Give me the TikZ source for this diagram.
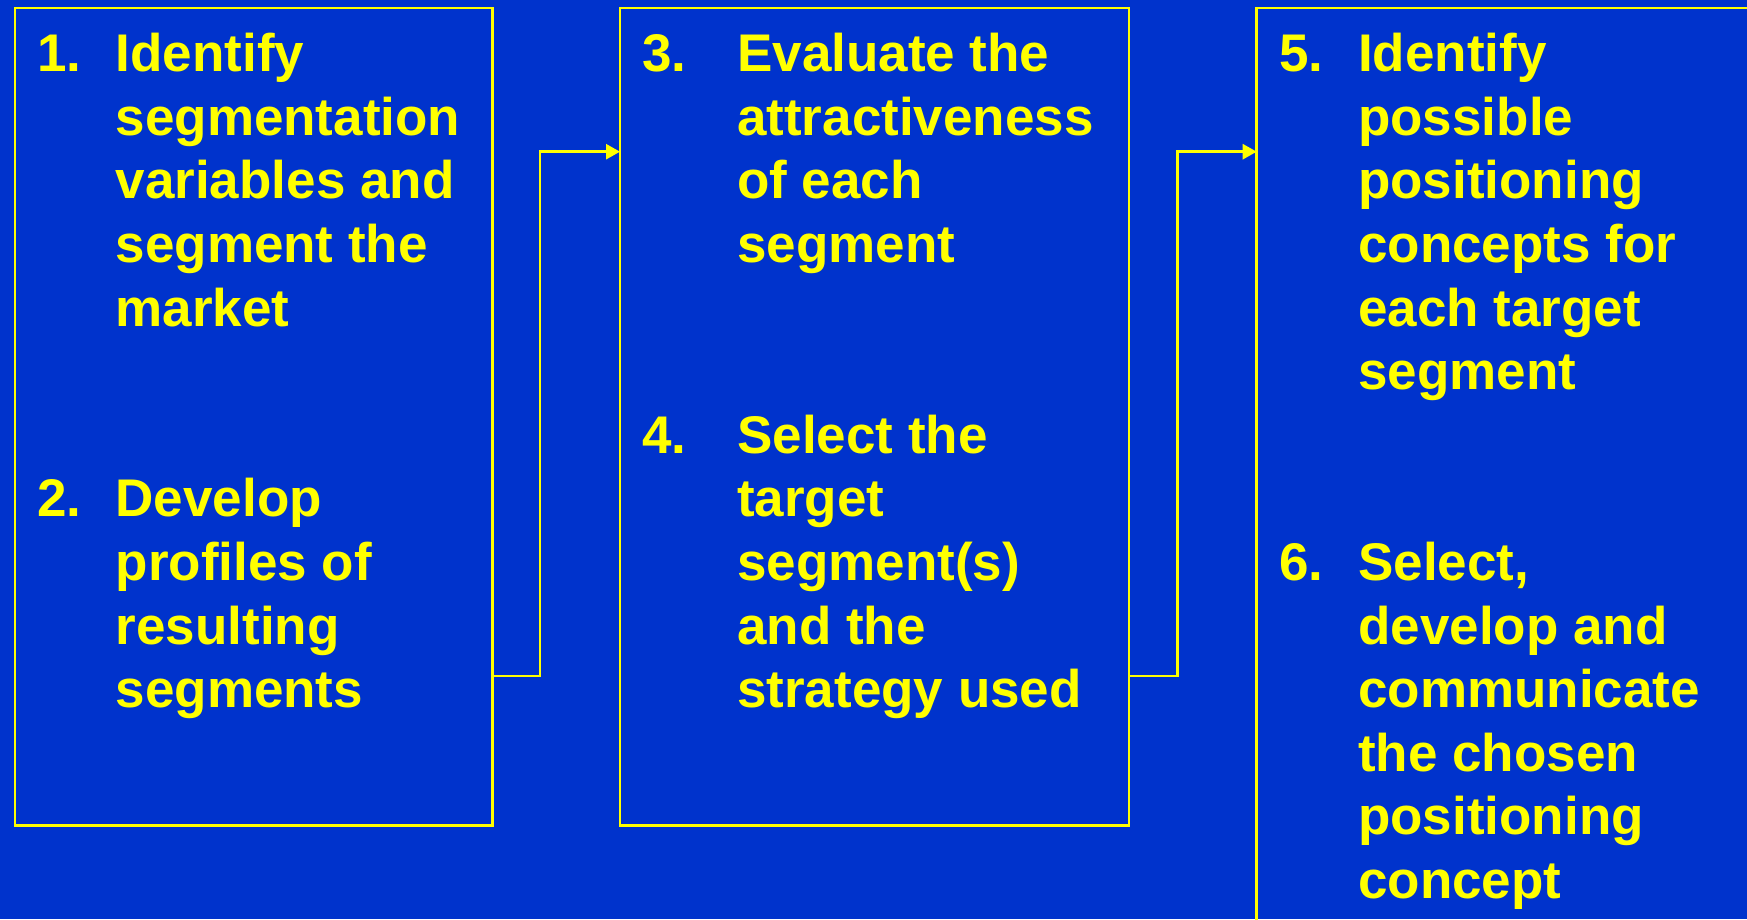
\documentclass[tikz,border=0pt]{standalone}
\usepackage{fontspec}
\setmainfont{Liberation Sans}
\usetikzlibrary{arrows.meta}
\definecolor{bg}{HTML}{0033CC}
\definecolor{ylw}{HTML}{FFFF00}
\begin{document}
\begin{tikzpicture}[x=1pt,y=-1pt,
  panel/.style={draw=ylw,line width=2.7pt,rectangle,anchor=north west,inner sep=0pt,outer sep=0pt},
  conn/.style={draw=ylw,line width=2.7pt,-{Triangle[length=14pt,width=15pt]}},
  txt/.style={text=ylw,anchor=base west,inner sep=0pt,font=\fontsize{53}{63.6}\selectfont\bfseries}]
  \useasboundingbox (0,0) rectangle (1747,919);
  \clip (0,0) rectangle (1747,919);
  \fill[bg] (0,0) rectangle (1747,919);

  % step panels
  \node[panel,minimum width=477.7pt,minimum height=817.6pt] (b1) at (15,8) {};
  \node[panel,minimum width=509pt,minimum height=817.6pt] (b2) at (620,8) {};
  \node[panel,minimum width=560pt,minimum height=1000pt] (b3) at (1256.7,8) {};

  % connectors between panels
  \coordinate (j1) at (540,676);
  \coordinate (k1) at (540,151.7);
  \coordinate (j2) at (1177.7,676);
  \coordinate (k2) at (1177.7,151.7);
  \draw[conn] (b1.east |- j1) -- (j1) -- (k1) -- (b2.west |- k1);
  \draw[conn] (b2.east |- j2) -- (j2) -- (k2) -- (b3.west |- k2);

  % panel 1
  \node[txt] (n1) at (37,71.7) {1.};
  \foreach \t [count=\i] in {Identify,segmentation,variables and,segment the,market}
    \node[txt] (s1l\i) at (115.5,{71.7+63.6*(\i-1)}) {\t};
  \node[txt] (n2) at (37,{71.7+63.6*7}) {2.};
  \foreach \t [count=\i] in {Develop,profiles of,resulting,segments}
    \node[txt] (s2l\i) at (115.5,{71.7+63.6*(\i+6)}) {\t};

  % panel 2
  \node[txt] (n3) at (642,71.7) {3.};
  \foreach \t [count=\i] in {Evaluate the,attractiveness,of each,segment}
    \node[txt] (s3l\i) at (737,{71.7+63.6*(\i-1)}) {\t};
  \node[txt] (n4) at (642,{71.7+63.6*6}) {4.};
  \foreach \t [count=\i] in {Select the,target,segment(s),and the,strategy used}
    \node[txt] (s4l\i) at (737,{71.7+63.6*(\i+5)}) {\t};

  % panel 3
  \node[txt] (n5) at (1279,71.7) {5.};
  \foreach \t [count=\i] in {Identify,possible,positioning,concepts for,each target,segment}
    \node[txt] (s5l\i) at (1358,{71.7+63.6*(\i-1)}) {\t};
  \node[txt] (n6) at (1279,{71.7+63.6*8}) {6.};
  \foreach \t [count=\i] in {{Select,},develop and,communicate,the chosen,positioning,concept}
    \node[txt] (s6l\i) at (1358,{71.7+63.6*(\i+7)}) {\t};
\end{tikzpicture}
\end{document}
